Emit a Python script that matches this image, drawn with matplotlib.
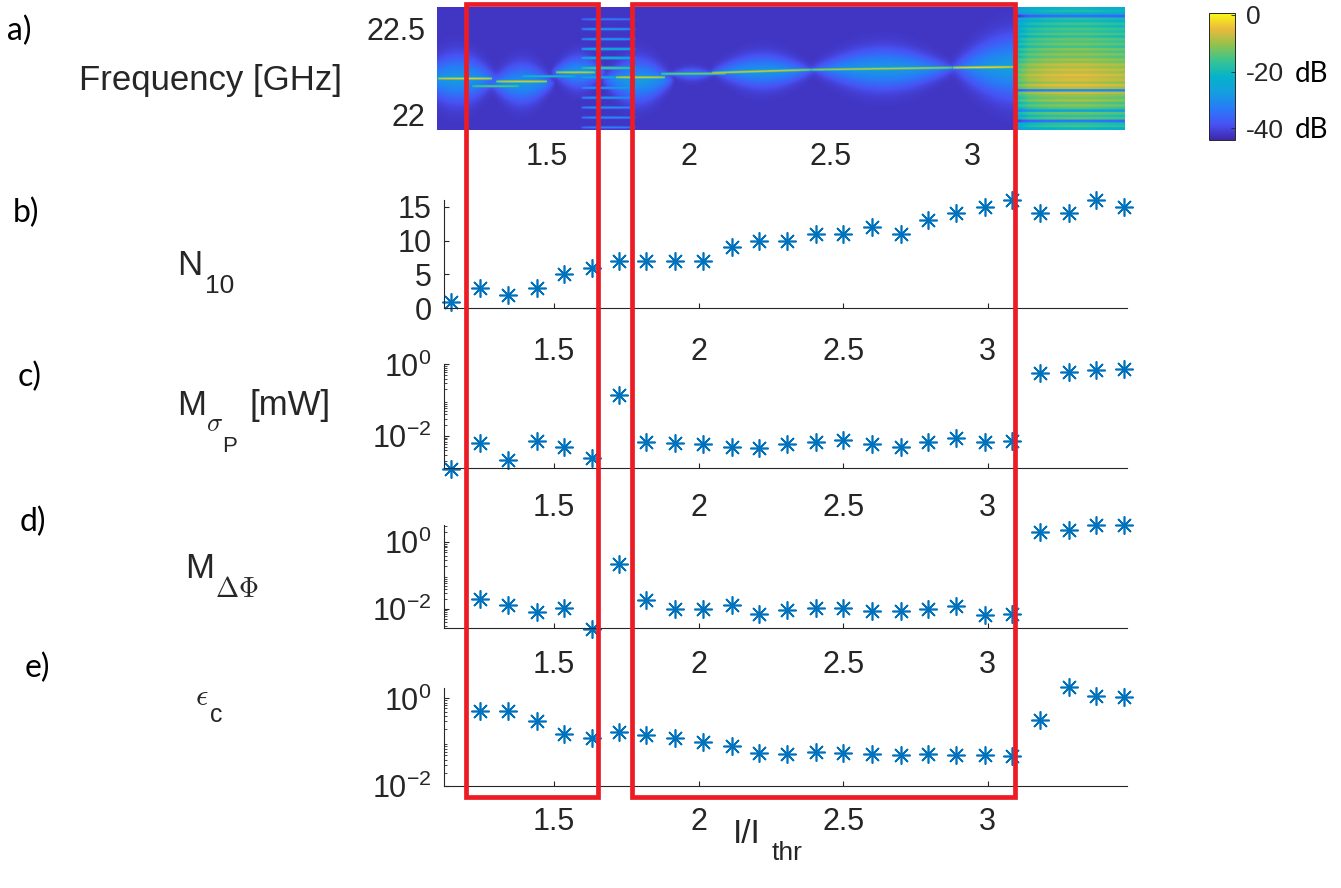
import numpy as np
import matplotlib
matplotlib.use('Agg')
import matplotlib.pyplot as plt
from matplotlib.colors import LinearSegmentedColormap
from matplotlib.patches import Rectangle
from matplotlib.ticker import FixedLocator, LogLocator, NullFormatter

W, H = 1341, 888

'''measured points, x = I/Ith'''
x_pts = [1.145, 1.245, 1.34, 1.44, 1.535, 1.63, 1.725, 1.82, 1.92, 2.015, 2.115, 2.21, 2.305,
         2.405, 2.5, 2.6, 2.7, 2.795, 2.89, 2.99, 3.085, 3.18, 3.28, 3.375, 3.47]
n10 = [1, 3, 2, 3, 5, 6, 7, 7, 7, 7, 9, 10, 10, 11, 11, 12, 11, 13, 14, 15, 16, 14, 14, 16, 15]
m_sigma_p = [1.2e-3, 6.2e-3, 2.1e-3, 7.2e-3, 5.0e-3, 2.5e-3, 0.14, 6.9e-3, 6.5e-3, 6.0e-3,
             4.8e-3, 4.5e-3, 6.0e-3, 6.9e-3, 7.7e-3, 6.0e-3, 5.0e-3, 6.9e-3, 8.6e-3, 6.9e-3,
             7.2e-3, 0.56, 0.60, 0.70, 0.73]
m_dphi = [np.nan, 0.020, 0.013, 8.0e-3, 0.011, 2.5e-3, 0.23, 0.019, 9.8e-3, 9.8e-3, 0.013,
          6.9e-3, 9.3e-3, 0.011, 0.011, 8.7e-3, 8.7e-3, 0.010, 0.012, 6.6e-3, 7.1e-3,
          2.1, 2.3, 3.3, 3.3]
eps_c = [np.nan, 0.51, 0.51, 0.31, 0.153, 0.122, 0.17, 0.145, 0.122, 0.10, 0.080, 0.058,
         0.054, 0.061, 0.058, 0.053, 0.051, 0.053, 0.051, 0.051, 0.048, 0.32, 1.8, 1.12, 1.09]

'''spectrogram description (panel a)'''
spec_x0, spec_x1 = 1.112, 3.537
spec_f0, spec_f1 = 21.91, 22.62
bg_db = -42
# pedestal blobs
blob_x0 = [1.03, 1.29, 1.51, 1.69, 1.92, 2.07, 2.42, 2.92]
blob_x1 = [1.33, 1.53, 1.71, 1.95, 2.10, 2.45, 2.95, 3.40]
blob_f = [22.205, 22.178, 22.245, 22.195, 22.234, 22.25, 22.262, 22.272]
blob_w = [0.14, 0.12, 0.095, 0.125, 0.045, 0.10, 0.12, 0.18]
blob_db = [-28, -29, -29, -28, -34, -29, -28, -27]
# narrow lasing lines
line_x0 = [1.112, 1.235, 1.32, 1.41, 1.53, 1.74, 1.90, 2.08, 2.43, 2.93]
line_x1 = [1.305, 1.40, 1.50, 1.60, 1.67, 1.915, 2.13, 2.43, 2.93, 3.156]
line_f0 = [22.207, 22.163, 22.19, 22.22, 22.243, 22.214, 22.234, 22.240, 22.258, 22.270]
line_f1 = [22.207, 22.163, 22.19, 22.22, 22.243, 22.214, 22.236, 22.258, 22.270, 22.274]
line_db = [-3, -12, -4, -18, -5, -4, -10, -5, -6, -2]
# comb around I/Ith ~ 1.7
comb_x0, comb_x1 = 1.62, 1.81
comb_f = [22.55, 22.493, 22.435, 22.378, 22.326, 22.268, 22.214, 22.153, 22.096, 22.039, 21.981, 21.924]
comb_db = [-32, -27, -27, -22, -20, -13, -22, -26, -27, -28, -29, -31]
# broadband region at high current
noise_x0 = 3.156
noise_row_db = [-21, -19, -23, -34, -18, -20,
                -16, -19, -15, -17, -14, -18, -13,
                -15, -12, -16, -11, -14, -10, -13,
                -9, -11, -7, -9, -6, -8, -5, -7,
                -6, -9, -5, -8, -30, -7, -10,
                -12, -9, -14, -11, -15, -26, -13,
                -17, -14, -33, -18, -16, -21]
noise_col_x = [3.156, 3.20, 3.26, 3.33, 3.40, 3.47, 3.537]
noise_col_db = [-8, -3, -1, 0, 0, -1, -2]

'''build spectrogram image'''
sx = np.linspace(spec_x0, spec_x1, 700)
sf = np.linspace(spec_f0, spec_f1, 400)
X, F = np.meshgrid(sx, sf)
P = np.full(X.shape, 10 ** (bg_db / 10))
for x0, x1, fc, w, db in zip(blob_x0, blob_x1, blob_f, blob_w, blob_db):
    env = np.sin(np.pi * np.clip((X - x0) / (x1 - x0), 0, 1))
    we = w * (0.35 + 0.65 * env)
    P += 10 ** (db / 10) * env ** 1.5 * np.exp(-3.0 * np.abs((F - fc) / we) ** 1.3)
for x0, x1, f0, f1, db in zip(line_x0, line_x1, line_f0, line_f1, line_db):
    t = np.clip((X - x0) / (x1 - x0), 0, 1)
    fl = f0 + (f1 - f0) * t
    P += 10 ** (db / 10) * np.sin(np.pi * t) ** 0.4 * np.exp(-((F - fl) / 0.0035) ** 2)
tc = np.clip((X - comb_x0) / (comb_x1 - comb_x0), 0, 1)
for fc, db in zip(comb_f, comb_db):
    P += 10 ** (db / 10) * np.sin(np.pi * tc) ** 0.5 * np.exp(-((F - fc) / 0.004) ** 2)
Z = 10 * np.log10(P)
row_idx = np.clip(((spec_f1 - F) / (spec_f1 - spec_f0) * len(noise_row_db)).astype(int), 0, len(noise_row_db) - 1)
Z_noise = np.array(noise_row_db)[row_idx] + np.interp(X, noise_col_x, noise_col_db)
Z = np.where(X >= noise_x0, Z_noise, Z)

parula = LinearSegmentedColormap.from_list('parula', [
    (0.000, (0.2422, 0.1504, 0.6603)),
    (0.125, (0.2810, 0.3228, 0.9579)),
    (0.250, (0.1540, 0.4860, 0.9700)),
    (0.375, (0.0800, 0.6200, 0.8700)),
    (0.500, (0.0200, 0.7000, 0.7900)),
    (0.625, (0.2200, 0.7700, 0.5700)),
    (0.750, (0.5700, 0.7600, 0.3000)),
    (0.875, (0.9200, 0.7300, 0.2300)),
    (1.000, (0.9769, 0.9839, 0.0805))])

plt.rcParams['font.family'] = ['Liberation Sans', 'DejaVu Sans']
plt.rcParams['mathtext.fontset'] = 'cm'
plt.rcParams['text.color'] = '#262626'
plt.rcParams['axes.edgecolor'] = '#262626'
plt.rcParams['xtick.color'] = '#262626'
plt.rcParams['ytick.color'] = '#262626'

fig = plt.figure(figsize=(W / 100, H / 100), dpi=100)


def add_ax(l, t, r, b):
    return fig.add_axes([l / W, 1 - b / H, (r - l) / W, (b - t) / H])


def ftext(x, y, s, size, **kw):
    fig.text(x / W, 1 - y / H, s, fontsize=size, va='baseline', ha='left', **kw)


TICK = 22
blue = '#0072BD'
mk = dict(marker=(8, 2, 0), markersize=13, markeredgewidth=1.2, color=blue,
          linestyle='none', clip_on=False)

# a) spectrogram
ax_a = add_ax(437.1, 7.3, 1125, 130)
im = ax_a.imshow(Z, extent=[spec_x0, spec_x1, spec_f0, spec_f1], origin='lower',
                 aspect='auto', cmap=parula, vmin=-44.1, vmax=0.7)
ax_a.set_xlim(spec_x0, spec_x1)
ax_a.set_ylim(spec_f0, spec_f1)
ax_a.set_xticks([1.5, 2, 2.5, 3], ['1.5', '2', '2.5', '3'])
ax_a.set_yticks([22, 22.5], ['22', '22.5'])
ax_a.tick_params(length=0, labelsize=TICK)
ax_a.tick_params(axis='x', pad=8.6)
ax_a.tick_params(axis='y', pad=8.6)
for s in ax_a.spines.values():
    s.set_visible(False)

cax = add_ax(1209, 13, 1235, 140)
cb = fig.colorbar(im, cax=cax)
cb.set_ticks([0, -20, -40])
cb.set_ticklabels(['0', '-20', '-40'])
cb.ax.tick_params(direction='in', length=3, labelsize=19, pad=8, width=0.6)
cb.outline.set_linewidth(0.7)
ftext(1295, 82, 'dB', 20, family=['Lato', 'DejaVu Sans'], color='black')
ftext(1295, 138, 'dB', 20, family=['Lato', 'DejaVu Sans'], color='black')

# b) - e) stacked point panels
panels = [
    (n10, 199.9, 308.3, None, 21),
    (m_sigma_p, 364.4, 467.7, (1.3e-3, 1.0), 18),
    (m_dphi, 525, 628.3, (2.63e-3, 3.3), 15.6),
    (eps_c, 688.3, 786, (1e-2, 1.7), 15),
]
for vals, top, bot, ylim, pad in panels:
    ax = add_ax(443.7, top, 1127.5, bot)
    ax.plot(x_pts, vals, **mk)
    ax.set_xlim(1.119, 3.483)
    ax.set_xticks([1.5, 2, 2.5, 3], ['1.5', '2', '2.5', '3'])
    if ylim is None:
        ax.set_ylim(0, 16)
        ax.set_yticks([0, 5, 10, 15])
    else:
        ax.set_yscale('log')
        ax.set_ylim(*ylim)
        ax.yaxis.set_major_locator(FixedLocator([1e-2, 1e0]))
        ax.yaxis.set_minor_locator(LogLocator(subs=np.arange(2, 10)))
        ax.yaxis.set_minor_formatter(NullFormatter())
    ax.spines['top'].set_visible(False)
    ax.spines['right'].set_visible(False)
    for s in ('left', 'bottom'):
        ax.spines[s].set_linewidth(0.8)
    ax.tick_params(direction='in', length=3.6, width=0.8, labelsize=TICK)
    ax.tick_params(which='minor', direction='in', length=2.2, width=0.6)
    ax.tick_params(axis='x', pad=pad)
    ax.tick_params(axis='y', pad=8.6)

# axis labels (placed like the original horizontal MATLAB labels)
LAB = 25
ftext(79, 90, 'Frequency [GHz]', LAB)
ftext(177, 275, 'N', LAB)
ftext(205, 293, '10', 19)
ftext(177, 415, 'M', LAB)
ftext(206, 431, r'$\sigma$', 19)
ftext(222, 452, 'P', 16)
ftext(250, 415, '[mW]', LAB)
ftext(185, 578, 'M', LAB)
ftext(215, 597, r'$\Delta\Phi$', 20)
ftext(195, 705, r'$\epsilon$', 22)
ftext(210, 722, 'c', 18)
ftext(733, 843, 'I/I', 24)
ftext(772, 860, 'thr', 19)

# panel letters
for lab, x, y in [('a)', 7, 40), ('b)', 13, 222), ('c)', 18, 386), ('d)', 20, 531), ('e)', 25, 677)]:
    ftext(x, y, lab, 23, family=['Lato', 'DejaVu Sans'], color='black')

# red highlight boxes
for l, r in [(466, 598), (632, 1015)]:
    fig.add_artist(Rectangle((l / W, 1 - 797 / H), (r - l) / W, (797 - 4.5) / H, fill=False,
                             edgecolor='#ED1C24', linewidth=3.4, transform=fig.transFigure,
                             zorder=20))

plt.savefig('out.png', dpi=100)
